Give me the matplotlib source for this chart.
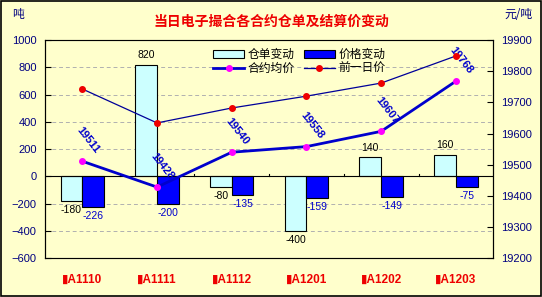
import numpy as np
import matplotlib
matplotlib.use('Agg')
from matplotlib import pyplot as plt
from matplotlib.patches import Rectangle

plt.rcParams['font.family'] = ['Liberation Sans', 'DejaVu Sans', 'Noto Sans CJK SC']

# data
contracts = ['▮A1110', '▮A1111', '▮A1112', '▮A1201', '▮A1202', '▮A1203']
warrant_change = [-180, 820, -80, -400, 140, 160]      # 仓单变动 (吨)
price_change = [-226, -200, -135, -159, -149, -75]      # 价格变动
avg_price = [19511, 19428, 19540, 19558, 19607, 19768]  # 合约均价
prev_price = [19743, 19634, 19682, 19720, 19762, 19849] # 前一日价

bg = '#FFFFCC'
navy = '#000080'
x = np.arange(len(contracts))
w = 0.29

fig = plt.figure(figsize=(5.42, 2.97), dpi=100, facecolor=bg)
fig.patches.append(Rectangle((0.001, 0.002), 0.997, 0.995, transform=fig.transFigure,
                             fill=False, edgecolor='black', lw=1.2))
ax = fig.add_axes([0.083, 0.131, 0.827, 0.734])
ax.set_facecolor(bg)

b1 = ax.bar(x - w / 2, warrant_change, w, color='#CCFFFF', edgecolor='black', lw=0.8,
            label='仓单变动', zorder=2)
b2 = ax.bar(x + w / 2, price_change, w, color='#0000FF', edgecolor='black', lw=0.8,
            label='价格变动', zorder=2)

for xi, v in zip(x, warrant_change):
    off = 3 if v > 0 else -3
    ax.annotate(str(v), (xi - w / 2, v), xytext=(0, off), textcoords='offset points',
                ha='center', va='bottom' if v > 0 else 'top', fontsize=7.5, color='black')
for xi, v in zip(x, price_change):
    ax.annotate(str(v), (xi + w / 2, v), xytext=(0, -3), textcoords='offset points',
                ha='center', va='top', fontsize=7.5, color='#0000CC')

ax.set_xlim(-0.5, 5.5)
ax.set_ylim(-600, 1000)
ax.set_yticks(range(-600, 1001, 200))
ax.set_xticks([])
ax.axhline(0, color='black', lw=0.8, zorder=3)
for b in np.arange(0.5, 5.5, 1):
    ax.plot([b, b], [0, 18], color='black', lw=0.8, zorder=3)
for yv in [-400, -200, 200, 400, 600, 800]:
    ax.axhline(yv, color='#B0B0B0', lw=0.7, ls=(0, (4, 3)), zorder=1)
ax.tick_params(axis='y', direction='in', length=4, labelsize=8, labelcolor=navy, pad=6)
for s in ['top', 'bottom']:
    ax.spines[s].set_color('#808080')
ax.spines['left'].set_color('black')

for xi, lab in zip(x, contracts):
    ax.text(xi, -0.07, lab, transform=ax.get_xaxis_transform(), ha='center', va='top',
            fontsize=8.5, color='#EE0000', fontweight='bold')

ax2 = ax.twinx()
ax2.set_ylim(19200, 19900)
ax2.set_yticks(range(19200, 19901, 100))
ax2.tick_params(axis='y', direction='in', length=4, labelsize=8, labelcolor=navy, pad=6)
ax2.spines['right'].set_color('black')
l1, = ax2.plot(x, avg_price, color='#0000CC', lw=2, marker='o', ms=4,
               mfc='#FF00FF', mec='#FF00FF', label='合约均价', zorder=4)
l2, = ax2.plot(x, prev_price, color='#000099', lw=0.9, marker='o', ms=4,
               mfc='#EE0000', mec='#EE0000', label='前一日价', zorder=4)
for xi, v in zip(x, avg_price):
    ax2.annotate(str(v), (xi, v), xytext=(4, 15), textcoords='offset points',
                 ha='center', va='center', rotation=-52, fontsize=8,
                 fontweight='bold', color='#0000CC')

fig.legend([b1, l1, b2, l2], ['仓单变动', '合约均价', '价格变动', '前一日价'],
           ncol=2, loc='upper left', bbox_to_anchor=(0.385, 0.85), frameon=False,
           fontsize=8.5, handlelength=2.6, columnspacing=0.8, labelspacing=0.15,
           handletextpad=0.3, borderaxespad=0)

fig.text(0.5, 0.925, '当日电子撮合各合约仓单及结算价变动', ha='center', va='center',
         fontsize=10, color='#EE0000', fontweight='bold', family='Noto Sans CJK SC')
fig.text(0.022, 0.95, '吨', ha='left', va='center', fontsize=8.5, color=navy,
         family='Noto Sans CJK SC')
fig.text(0.93, 0.95, '元/吨', ha='left', va='center', fontsize=8.5, color=navy,
         family='Noto Sans CJK SC')

fig.savefig('out.png', dpi=100, facecolor=bg)
